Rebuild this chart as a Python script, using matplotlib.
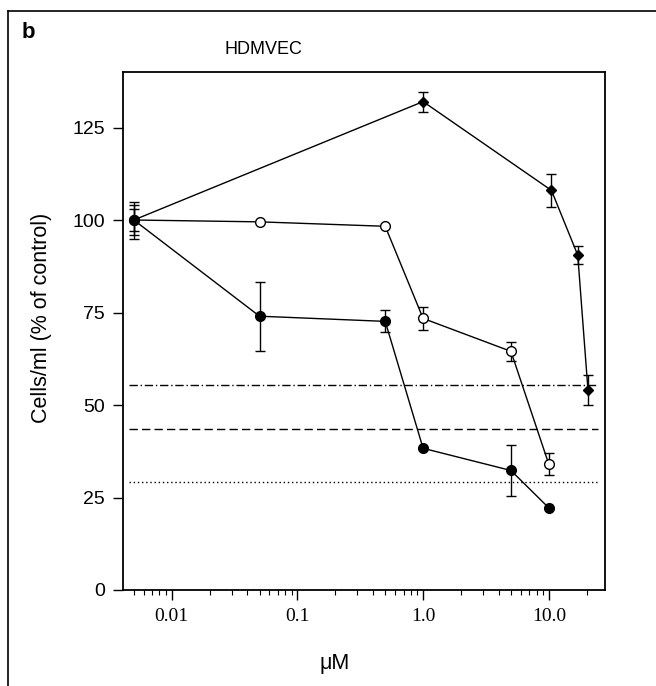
import numpy as np
import matplotlib
matplotlib.use("Agg")
import matplotlib.pyplot as plt
from matplotlib.lines import Line2D
from matplotlib.ticker import LogLocator, FixedLocator, NullFormatter

# concentrations (uM) and responses (% of control)
dose_diamond = [0.005, 1.0, 10.5, 17.0, 20.5]
resp_diamond = [100, 132, 108, 90.5, 54]
err_diamond = [5, 2.7, 4.5, 2.5, 4]

dose_open = [0.005, 0.05, 0.5, 1.0, 5.0, 10.0]
resp_open = [100, 99.5, 98.3, 73.4, 64.5, 34]
err_open = [3, 0, 0, 3.2, 2.5, 3]

dose_filled = [0.005, 0.05, 0.5, 1.0, 5.0, 10.0]
resp_filled = [100, 74, 72.6, 38.3, 32.3, 22.2]
err_filled = [4, 9.3, 3, 0, 7, 0]

# reference levels (dash-dot, dashed, dotted)
ref_levels = [55.3, 43.6, 29.3]
ref_styles = [(0, (6, 2, 1, 2)), (0, (6, 3)), (0, (1, 2))]

xticks = [0.01, 0.1, 1.0, 10.0]
xticklabels = ["0.01", "0.1", "1.0", "10.0"]
yticks = [0, 25, 50, 75, 100, 125]

fig = plt.figure(figsize=(6.56, 6.86), dpi=100)
ax = fig.add_axes([123 / 656, 1 - 590 / 686, (605 - 123) / 656, (590 - 72) / 686])

for lvl, ls in zip(ref_levels, ref_styles):
    ax.axhline(lvl, xmin=0.012, xmax=0.985, color="black", lw=1.0, ls=ls)

common = dict(color="black", lw=1.0, capsize=3.5, elinewidth=1.0, capthick=1.0)
ax.errorbar(dose_diamond, resp_diamond, yerr=err_diamond, marker="D", ms=5.5,
            mfc="black", mec="black", **common)
ax.errorbar(dose_open, resp_open, yerr=err_open, marker="o", ms=7,
            mfc="white", mec="black", mew=1.0, **common)
ax.errorbar(dose_filled, resp_filled, yerr=err_filled, marker="o", ms=7,
            mfc="black", mec="black", **common)

ax.set_xscale("log")
ax.set_xlim(0.0041, 28)
ax.set_ylim(0, 140)
ax.xaxis.set_major_locator(FixedLocator(xticks))
ax.set_xticklabels(xticklabels, family="Liberation Serif", fontsize=14)
ax.xaxis.set_minor_locator(LogLocator(base=10, subs=np.arange(2, 10)))
ax.xaxis.set_minor_formatter(NullFormatter())
ax.set_yticks(yticks)
ax.set_yticklabels([str(v) for v in yticks], family="Liberation Sans", fontsize=14)
ax.tick_params(axis="both", which="major", direction="out", length=7, width=1.0, pad=6)
ax.tick_params(axis="x", which="minor", direction="out", length=3.5, width=0.8)
for sp in ax.spines.values():
    sp.set_linewidth(1.3)

fig.text(42 / 656, 1 - 318 / 686, "Cells/ml (% of control)", rotation=90,
         ha="center", va="center", family="Liberation Sans", fontsize=15.5)
fig.text(335 / 656, 1 - 663 / 686, "\u03bcM", ha="center", va="center",
         family="Liberation Sans", fontsize=15.5)
fig.text(263 / 656, 1 - 50 / 686, "HDMVEC", ha="center", va="center",
         family="Liberation Sans", fontsize=13)
fig.text(22 / 656, 1 - 32 / 686, "b", ha="left", va="center",
         family="Liberation Sans", fontsize=16, fontweight="bold")

# outer panel frame (left and top edges)
fig.add_artist(Line2D([8 / 656, 8 / 656], [0, 1 - 11 / 686], color="black", lw=1.2))
fig.add_artist(Line2D([8 / 656, 1], [1 - 11 / 686, 1 - 11 / 686], color="black", lw=1.2))

fig.savefig("out.png", dpi=100)
